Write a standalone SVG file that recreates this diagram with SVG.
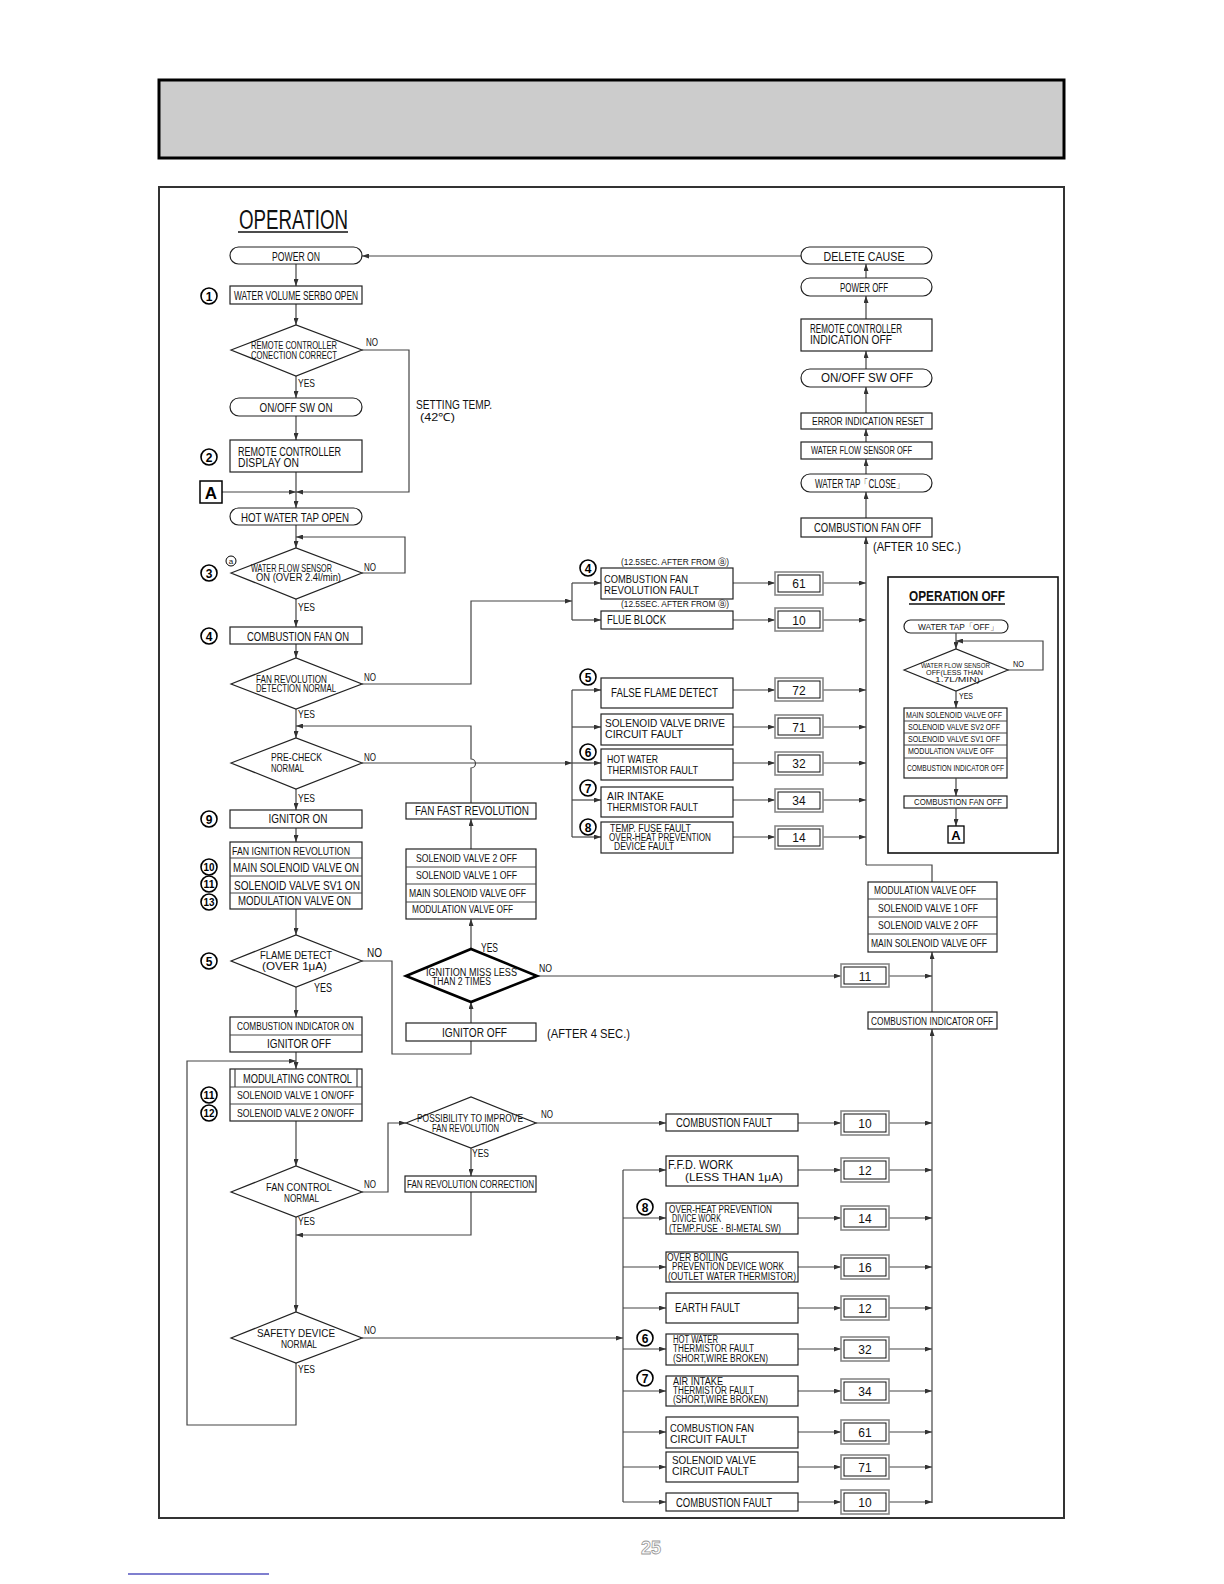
<svg xmlns="http://www.w3.org/2000/svg" width="1224" height="1584" viewBox="0 0 1224 1584">
<defs>
<style>
.t{font-family:"Liberation Sans Narrow","Liberation Sans",Arial,sans-serif;fill:#111}
.m{text-anchor:middle}
.b{fill:#fff;stroke:#222;stroke-width:1.2}
.c{fill:none;stroke:#444;stroke-width:1.2}
.a{fill:none;stroke:#444;stroke-width:1.2;marker-end:url(#ah)}
.cir{fill:#fff;stroke:#000;stroke-width:1.6}
.n{font-family:"Liberation Sans",Arial,sans-serif;font-weight:bold;text-anchor:middle;fill:#000}
.co{fill:#fff;stroke:#888;stroke-width:1.6}
.ci{fill:none;stroke:#111;stroke-width:1}
</style>
<marker id="ah" markerWidth="7" markerHeight="5" refX="7" refY="2.5" orient="auto" markerUnits="userSpaceOnUse"><path d="M0,0 L7,2.5 L0,5 z" fill="#333"/></marker>
</defs>
<rect x="0" y="0" width="1224" height="1584" fill="#fff"/>
<rect x="159" y="80" width="905" height="78" fill="#cccccc" stroke="#000" stroke-width="3"/>
<rect x="159" y="187" width="905" height="1331" fill="none" stroke="#333" stroke-width="2"/>
<g id="title">
<text class="t" x="239" y="229" font-size="27" textLength="109" lengthAdjust="spacingAndGlyphs">OPERATION</text>
<line x1="238" y1="232" x2="348" y2="232" stroke="#111" stroke-width="1.5"/>
</g>

<g id="connectors">
<path class="a" d="M296,264 V286"/>
<path class="a" d="M296,304 V325"/>
<path class="a" d="M296,376 V398"/>
<path class="a" d="M296,416 V440"/>
<path class="a" d="M296,472 V508"/>
<path class="a" d="M222,492 H296"/>
<path class="a" d="M362,350 H409 V492 H296"/>
<path class="a" d="M296,525 V548"/>
<path class="a" d="M362,573 H405 V537 H296"/>
<path class="a" d="M296,599 V627"/>
<path class="a" d="M296,644 V658"/>
<path class="a" d="M296,709 V738"/>
<path class="a" d="M471,803 V768 A4.5,4.5 0 0 0 471,759 V726 H296"/>
<path class="a" d="M296,789 V810"/>
<path class="a" d="M296,828 V842"/>
<path class="a" d="M296,909 V935"/>
<path class="a" d="M296,987 V1017"/>
<path class="a" d="M296,1052 V1069"/>
<path class="a" d="M296,1363 V1425 H187 V1061 H296"/>
<path class="a" d="M296,1121 V1166"/>
<path class="a" d="M296,1217 V1312"/>
<path class="a" d="M471,1192 V1235 H296"/>
<path class="a" d="M362,1192 H388 V1123 H406"/>
<path class="a" d="M471,1148 V1176"/>
<path class="a" d="M536,1123 H666"/>
<path class="a" d="M362,1338 H623"/>
<path class="c" d="M623,1170 V1502"/>
<path class="a" d="M623,1170 H666"/><path class="a" d="M623,1218 H666"/><path class="a" d="M623,1267 H666"/><path class="a" d="M623,1308 H666"/><path class="a" d="M623,1349 H666"/><path class="a" d="M623,1391 H666"/><path class="a" d="M623,1432 H666"/><path class="a" d="M623,1467 H666"/><path class="a" d="M623,1502 H666"/>
<path class="a" d="M798,1123 H841"/><path class="a" d="M798,1170 H841"/><path class="a" d="M798,1218 H841"/><path class="a" d="M798,1267 H841"/><path class="a" d="M798,1308 H841"/><path class="a" d="M798,1349 H841"/><path class="a" d="M798,1391 H841"/><path class="a" d="M798,1432 H841"/><path class="a" d="M798,1467 H841"/><path class="a" d="M798,1502 H841"/>
<path class="a" d="M889,1123 H932"/><path class="a" d="M889,1170 H932"/><path class="a" d="M889,1218 H932"/><path class="a" d="M889,1267 H932"/><path class="a" d="M889,1308 H932"/><path class="a" d="M889,1349 H932"/><path class="a" d="M889,1391 H932"/><path class="a" d="M889,1432 H932"/><path class="a" d="M889,1467 H932"/><path class="a" d="M889,1502 H932"/>
<path class="a" d="M932,1503 V1029"/>
<path class="a" d="M932,1012 V952"/>
<path class="a" d="M537,976 H841"/>
<path class="a" d="M889,976 H932"/>
<path class="c" d="M932,882 V865 H866"/>
<path class="a" d="M866,865 V537"/>
<path class="a" d="M733,583 H775"/><path class="a" d="M733,620 H775"/><path class="a" d="M733,690 H775"/><path class="a" d="M733,727 H775"/><path class="a" d="M733,763 H775"/><path class="a" d="M733,800 H775"/><path class="a" d="M733,837 H775"/>
<path class="a" d="M823,583 H866"/><path class="a" d="M823,620 H866"/><path class="a" d="M823,690 H866"/><path class="a" d="M823,727 H866"/><path class="a" d="M823,763 H866"/><path class="a" d="M823,800 H866"/><path class="a" d="M823,837 H866"/>
<path class="a" d="M362,684 H471 V601 H572"/>
<path class="c" d="M572,583 V620"/>
<path class="a" d="M572,583 H601"/><path class="a" d="M572,620 H601"/>
<path class="a" d="M362,763 H572"/>
<path class="c" d="M572,690 V837"/>
<path class="a" d="M572,690 H601"/><path class="a" d="M572,727 H601"/><path class="a" d="M572,763 H601"/><path class="a" d="M572,800 H601"/><path class="a" d="M572,837 H601"/>
<path class="a" d="M866,518 V492"/>
<path class="a" d="M866,474 V459"/>
<path class="a" d="M866,442 V429"/>
<path class="a" d="M866,413 V387"/>
<path class="a" d="M866,369 V351"/>
<path class="a" d="M866,319 V296"/>
<path class="a" d="M866,278 V264"/>
<path class="a" d="M801,256 H362"/>
<path class="a" d="M471,849 V819"/>
<path class="a" d="M471,949 V919"/>
<path class="a" d="M471,1023 V1002"/>
<path class="c" d="M362,961 H392 V1054 H471 V1041"/>
</g>

<g id="labels">
<text class="t" x="366" y="346" font-size="10.5" textLength="12" lengthAdjust="spacingAndGlyphs">NO</text>
<text class="t" x="298" y="387" font-size="11" textLength="17" lengthAdjust="spacingAndGlyphs">YES</text>
<text class="t" x="364" y="571" font-size="10.5" textLength="12" lengthAdjust="spacingAndGlyphs">NO</text>
<text class="t" x="298" y="611" font-size="11" textLength="17" lengthAdjust="spacingAndGlyphs">YES</text>
<text class="t" x="364" y="681" font-size="10.5" textLength="12" lengthAdjust="spacingAndGlyphs">NO</text>
<text class="t" x="298" y="718" font-size="11" textLength="17" lengthAdjust="spacingAndGlyphs">YES</text>
<text class="t" x="364" y="761" font-size="10.5" textLength="12" lengthAdjust="spacingAndGlyphs">NO</text>
<text class="t" x="298" y="802" font-size="11" textLength="17" lengthAdjust="spacingAndGlyphs">YES</text>
<text class="t" x="367" y="957" font-size="13" textLength="15" lengthAdjust="spacingAndGlyphs">NO</text>
<text class="t" x="314" y="992" font-size="12" textLength="18" lengthAdjust="spacingAndGlyphs">YES</text>
<text class="t" x="481" y="952" font-size="12" textLength="17" lengthAdjust="spacingAndGlyphs">YES</text>
<text class="t" x="539" y="972" font-size="10.5" textLength="13" lengthAdjust="spacingAndGlyphs">NO</text>
<text class="t" x="541" y="1118" font-size="10.5" textLength="12" lengthAdjust="spacingAndGlyphs">NO</text>
<text class="t" x="472" y="1157" font-size="11" textLength="17" lengthAdjust="spacingAndGlyphs">YES</text>
<text class="t" x="364" y="1188" font-size="10.5" textLength="12" lengthAdjust="spacingAndGlyphs">NO</text>
<text class="t" x="298" y="1225" font-size="11" textLength="17" lengthAdjust="spacingAndGlyphs">YES</text>
<text class="t" x="364" y="1334" font-size="10.5" textLength="12" lengthAdjust="spacingAndGlyphs">NO</text>
<text class="t" x="298" y="1373" font-size="11" textLength="17" lengthAdjust="spacingAndGlyphs">YES</text>
<text class="t" x="416" y="409" font-size="12" textLength="76" lengthAdjust="spacingAndGlyphs">SETTING TEMP.</text>
<text class="t" x="420" y="421" font-size="11" textLength="35" lengthAdjust="spacingAndGlyphs">(42℃)</text>
<text class="t" x="547" y="1038" font-size="12" textLength="83" lengthAdjust="spacingAndGlyphs">(AFTER 4 SEC.)</text>
<text class="t" x="873" y="551" font-size="12" textLength="88" lengthAdjust="spacingAndGlyphs">(AFTER 10 SEC.)</text>
<text class="t" x="621" y="565" font-size="9" textLength="108" lengthAdjust="spacingAndGlyphs">(12.5SEC. AFTER FROM ⓐ)</text>
<text class="t" x="621" y="607" font-size="9" textLength="108" lengthAdjust="spacingAndGlyphs">(12.5SEC. AFTER FROM ⓐ)</text>
</g>

<g id="circled-numbers">
<circle class="cir" cx="209" cy="296" r="8"/><text class="n" x="209" y="300.5" font-size="12">1</text>
<circle class="cir" cx="209" cy="457" r="8"/><text class="n" x="209" y="461.5" font-size="12">2</text>
<circle class="cir" cx="209" cy="573" r="8"/><text class="n" x="209" y="577.5" font-size="12">3</text>
<circle cx="231" cy="561" r="5" fill="#fff" stroke="#000" stroke-width="1"/><text class="t m" x="231" y="564" font-size="8">a</text>
<circle class="cir" cx="209" cy="636" r="8"/><text class="n" x="209" y="640.5" font-size="12">4</text>
<circle class="cir" cx="209" cy="819" r="8"/><text class="n" x="209" y="823.5" font-size="12">9</text>
<circle class="cir" cx="209" cy="867" r="8"/><text class="n" x="209" y="871" font-size="11" textLength="11" lengthAdjust="spacingAndGlyphs">10</text>
<circle class="cir" cx="209" cy="884" r="8"/><text class="n" x="209" y="888" font-size="11" textLength="11" lengthAdjust="spacingAndGlyphs">11</text>
<circle class="cir" cx="209" cy="902" r="8"/><text class="n" x="209" y="906" font-size="11" textLength="11" lengthAdjust="spacingAndGlyphs">13</text>
<circle class="cir" cx="209" cy="961" r="8"/><text class="n" x="209" y="965.5" font-size="12">5</text>
<circle class="cir" cx="209" cy="1095" r="8"/><text class="n" x="209" y="1099" font-size="11" textLength="11" lengthAdjust="spacingAndGlyphs">11</text>
<circle class="cir" cx="209" cy="1113" r="8"/><text class="n" x="209" y="1117" font-size="11" textLength="11" lengthAdjust="spacingAndGlyphs">12</text>
<circle class="cir" cx="588" cy="568" r="8"/><text class="n" x="588" y="572.5" font-size="12">4</text>
<circle class="cir" cx="588" cy="677" r="8"/><text class="n" x="588" y="681.5" font-size="12">5</text>
<circle class="cir" cx="588" cy="752" r="8"/><text class="n" x="588" y="756.5" font-size="12">6</text>
<circle class="cir" cx="588" cy="788" r="8"/><text class="n" x="588" y="792.5" font-size="12">7</text>
<circle class="cir" cx="588" cy="827" r="8"/><text class="n" x="588" y="831.5" font-size="12">8</text>
<circle class="cir" cx="645" cy="1207" r="8"/><text class="n" x="645" y="1211.5" font-size="12">8</text>
<circle class="cir" cx="645" cy="1338" r="8"/><text class="n" x="645" y="1342.5" font-size="12">6</text>
<circle class="cir" cx="645" cy="1378" r="8"/><text class="n" x="645" y="1382.5" font-size="12">7</text>
</g>

<g id="n-power-on"><rect class="b" x="230" y="247" width="132" height="17" rx="8.5"/><text class="t m" x="296" y="261" font-size="13" textLength="48" lengthAdjust="spacingAndGlyphs">POWER ON</text></g>
<g id="n-water-volume"><rect class="b" x="230" y="286" width="132" height="18"/><text class="t m" x="296" y="300" font-size="12" textLength="124" lengthAdjust="spacingAndGlyphs">WATER VOLUME SERBO OPEN</text></g>
<g id="d-remote-conn"><polygon class="b" points="231,350 296,325 362,350 296,376"/>
<text class="t" x="251" y="349" font-size="10.5" textLength="86" lengthAdjust="spacingAndGlyphs">REMOTE CONTROLLER</text>
<text class="t" x="251" y="359" font-size="10.5" textLength="86" lengthAdjust="spacingAndGlyphs">CONECTION CORRECT</text></g>
<g id="n-onoff-on"><rect class="b" x="230" y="398" width="132" height="18" rx="9"/><text class="t m" x="296" y="412" font-size="13" textLength="73" lengthAdjust="spacingAndGlyphs">ON/OFF SW ON</text></g>
<g id="n-remote-display"><rect class="b" x="230" y="440" width="132" height="32"/>
<text class="t" x="238" y="456" font-size="12" textLength="103" lengthAdjust="spacingAndGlyphs">REMOTE CONTROLLER</text>
<text class="t" x="238" y="467" font-size="12" textLength="61" lengthAdjust="spacingAndGlyphs">DISPLAY ON</text></g>
<g id="n-A"><rect x="200" y="481" width="22" height="22" fill="#fff" stroke="#000" stroke-width="1.5"/><text class="n" x="211" y="499" font-size="17">A</text></g>
<g id="n-hot-water-tap"><rect class="b" x="230" y="508" width="132" height="17" rx="8.5"/><text class="t m" x="295" y="522" font-size="13" textLength="108" lengthAdjust="spacingAndGlyphs">HOT WATER TAP OPEN</text></g>
<g id="d-water-flow"><polygon class="b" points="231,573 296,548 362,573 296,599"/>
<text class="t" x="251" y="572" font-size="10" textLength="81" lengthAdjust="spacingAndGlyphs">WATER FLOW SENSOR</text>
<text class="t" x="256" y="581" font-size="10" textLength="85" lengthAdjust="spacingAndGlyphs">ON (OVER 2.4l/min)</text></g>
<g id="n-comb-fan-on"><rect class="b" x="230" y="627" width="132" height="17"/><text class="t m" x="298" y="641" font-size="13" textLength="102" lengthAdjust="spacingAndGlyphs">COMBUSTION FAN ON</text></g>
<g id="d-fan-rev"><polygon class="b" points="231,684 296,658 362,684 296,709"/>
<text class="t" x="256" y="683" font-size="10.5" textLength="71" lengthAdjust="spacingAndGlyphs">FAN REVOLUTION</text>
<text class="t" x="256" y="692" font-size="10.5" textLength="80" lengthAdjust="spacingAndGlyphs">DETECTION NORMAL</text></g>
<g id="d-precheck"><polygon class="b" points="231,763 296,738 362,763 296,789"/>
<text class="t" x="271" y="761" font-size="11" textLength="51" lengthAdjust="spacingAndGlyphs">PRE-CHECK</text>
<text class="t" x="271" y="772" font-size="11" textLength="33" lengthAdjust="spacingAndGlyphs">NORMAL</text></g>
<g id="n-ignitor-on"><rect class="b" x="230" y="810" width="132" height="18"/><text class="t m" x="298" y="823" font-size="13" textLength="59" lengthAdjust="spacingAndGlyphs">IGNITOR ON</text></g>
<g id="n-ignition-stack"><rect class="b" x="230" y="842" width="132" height="67"/>
<path class="c" d="M230,858 H362 M230,876 H362 M230,893 H362" stroke="#222"/>
<text class="t" x="232" y="855" font-size="11.5" textLength="118" lengthAdjust="spacingAndGlyphs">FAN IGNITION REVOLUTION</text>
<text class="t" x="233" y="872" font-size="12" textLength="126" lengthAdjust="spacingAndGlyphs">MAIN SOLENOID VALVE ON</text>
<text class="t" x="234" y="890" font-size="12" textLength="126" lengthAdjust="spacingAndGlyphs">SOLENOID VALVE SV1 ON</text>
<text class="t" x="238" y="905" font-size="12" textLength="113" lengthAdjust="spacingAndGlyphs">MODULATION VALVE ON</text></g>
<g id="d-flame"><polygon class="b" points="231,961 296,935 362,961 296,987"/>
<text class="t" x="260" y="959" font-size="11.5" textLength="72" lengthAdjust="spacingAndGlyphs">FLAME DETECT</text>
<text class="t" x="262" y="970" font-size="11" textLength="65" lengthAdjust="spacingAndGlyphs">(OVER 1μA)</text></g>
<g id="n-comb-ind-on"><rect class="b" x="230" y="1017" width="132" height="35"/><path class="c" d="M230,1035 H362" stroke="#222"/>
<text class="t" x="237" y="1030" font-size="11" textLength="117" lengthAdjust="spacingAndGlyphs">COMBUSTION INDICATOR ON</text>
<text class="t" x="267" y="1048" font-size="12" textLength="64" lengthAdjust="spacingAndGlyphs">IGNITOR OFF</text></g>
<g id="n-modulating"><rect class="b" x="230" y="1069" width="132" height="52"/><path class="c" d="M230,1087 H362 M230,1104 H362 M235,1069 V1087 M357,1069 V1087" stroke="#222"/>
<text class="t" x="243" y="1083" font-size="12" textLength="109" lengthAdjust="spacingAndGlyphs">MODULATING CONTROL</text>
<text class="t" x="237" y="1099" font-size="11" textLength="117" lengthAdjust="spacingAndGlyphs">SOLENOID VALVE 1 ON/OFF</text>
<text class="t" x="237" y="1117" font-size="11" textLength="117" lengthAdjust="spacingAndGlyphs">SOLENOID VALVE 2 ON/OFF</text></g>
<g id="d-fan-control"><polygon class="b" points="231,1192 296,1166 362,1192 296,1217"/>
<text class="t" x="266" y="1191" font-size="11.5" textLength="66" lengthAdjust="spacingAndGlyphs">FAN CONTROL</text>
<text class="t" x="284" y="1202" font-size="11.5" textLength="35" lengthAdjust="spacingAndGlyphs">NORMAL</text></g>
<g id="d-safety"><polygon class="b" points="231,1338 296,1312 362,1338 296,1363"/>
<text class="t" x="257" y="1337" font-size="11.5" textLength="78" lengthAdjust="spacingAndGlyphs">SAFETY DEVICE</text>
<text class="t" x="281" y="1348" font-size="11.5" textLength="36" lengthAdjust="spacingAndGlyphs">NORMAL</text></g>

<g id="n-fan-fast"><rect class="b" x="406" y="803" width="130" height="16"/><text class="t" x="415" y="815" font-size="12" textLength="114" lengthAdjust="spacingAndGlyphs">FAN FAST REVOLUTION</text></g>
<g id="n-valves-off"><rect class="b" x="406" y="849" width="130" height="70"/><path class="c" d="M406,867 H536 M406,884 H536 M406,902 H536" stroke="#222"/>
<text class="t" x="416" y="862" font-size="11" textLength="101" lengthAdjust="spacingAndGlyphs">SOLENOID VALVE 2 OFF</text>
<text class="t" x="416" y="879" font-size="11" textLength="101" lengthAdjust="spacingAndGlyphs">SOLENOID VALVE 1 OFF</text>
<text class="t" x="409" y="897" font-size="11" textLength="117" lengthAdjust="spacingAndGlyphs">MAIN SOLENOID VALVE OFF</text>
<text class="t" x="412" y="913" font-size="11" textLength="101" lengthAdjust="spacingAndGlyphs">MODULATION VALVE OFF</text></g>
<g id="d-ignition-miss"><polygon points="406,976 471,949 537,976 471,1002" fill="#fff" stroke="#000" stroke-width="2.6"/>
<text class="t" x="426" y="976" font-size="10" textLength="91" lengthAdjust="spacingAndGlyphs">IGNITION MISS LESS</text>
<text class="t" x="432" y="985" font-size="10" textLength="59" lengthAdjust="spacingAndGlyphs">THAN 2 TIMES</text></g>
<g id="n-ignitor-off"><rect class="b" x="406" y="1023" width="130" height="18"/><text class="t" x="442" y="1037" font-size="13" textLength="65" lengthAdjust="spacingAndGlyphs">IGNITOR OFF</text></g>
<g id="d-possibility"><polygon class="b" points="406,1123 471,1097 536,1123 471,1148"/>
<text class="t" x="417" y="1122" font-size="10" textLength="106" lengthAdjust="spacingAndGlyphs">POSSIBILITY TO IMPROVE</text>
<text class="t" x="432" y="1132" font-size="10" textLength="67" lengthAdjust="spacingAndGlyphs">FAN REVOLUTION</text></g>
<g id="n-fan-rev-corr"><rect class="b" x="405" y="1176" width="131" height="16"/><text class="t" x="407" y="1188" font-size="11" textLength="127" lengthAdjust="spacingAndGlyphs">FAN REVOLUTION CORRECTION</text></g>

<g id="n-delete-cause"><rect class="b" x="801" y="247" width="131" height="17" rx="8.5"/><text class="t m" x="864" y="261" font-size="12.5" textLength="81" lengthAdjust="spacingAndGlyphs">DELETE CAUSE</text></g>
<g id="n-power-off"><rect class="b" x="801" y="278" width="131" height="18" rx="9"/><text class="t m" x="864" y="292" font-size="12.5" textLength="48" lengthAdjust="spacingAndGlyphs">POWER OFF</text></g>
<g id="n-remote-ind-off"><rect class="b" x="801" y="319" width="131" height="32"/>
<text class="t" x="810" y="333" font-size="12" textLength="92" lengthAdjust="spacingAndGlyphs">REMOTE CONTROLLER</text>
<text class="t" x="810" y="344" font-size="12" textLength="82" lengthAdjust="spacingAndGlyphs">INDICATION OFF</text></g>
<g id="n-onoff-off"><rect class="b" x="801" y="369" width="131" height="18" rx="9"/><text class="t m" x="867" y="382" font-size="12.5" textLength="92" lengthAdjust="spacingAndGlyphs">ON/OFF SW OFF</text></g>
<g id="n-error-reset"><rect class="b" x="801" y="413" width="131" height="16"/><text class="t m" x="868" y="425" font-size="10.5" textLength="112" lengthAdjust="spacingAndGlyphs">ERROR INDICATION RESET</text></g>
<g id="n-wfs-off"><rect class="b" x="801" y="442" width="131" height="17"/><text class="t" x="811" y="454" font-size="10" textLength="101" lengthAdjust="spacingAndGlyphs">WATER FLOW SENSOR OFF</text></g>
<g id="n-tap-close"><rect class="b" x="801" y="474" width="131" height="18" rx="9"/><text class="t" x="815" y="488" font-size="12" textLength="89" lengthAdjust="spacingAndGlyphs">WATER TAP「CLOSE」</text></g>
<g id="n-comb-fan-off"><rect class="b" x="801" y="518" width="131" height="19"/><text class="t" x="814" y="532" font-size="12" textLength="107" lengthAdjust="spacingAndGlyphs">COMBUSTION FAN OFF</text></g>

<g id="n-f-cfrf"><rect class="b" x="601" y="568" width="132" height="31"/>
<text class="t" x="604" y="583" font-size="11.5" textLength="84" lengthAdjust="spacingAndGlyphs">COMBUSTION FAN</text>
<text class="t" x="604" y="594" font-size="11.5" textLength="95" lengthAdjust="spacingAndGlyphs">REVOLUTION FAULT</text></g>
<g id="n-f-flue"><rect class="b" x="601" y="611" width="132" height="18"/><text class="t" x="607" y="624" font-size="12" textLength="59" lengthAdjust="spacingAndGlyphs">FLUE BLOCK</text></g>
<g id="n-f-false"><rect class="b" x="601" y="678" width="132" height="30"/><text class="t" x="611" y="697" font-size="12.5" textLength="107" lengthAdjust="spacingAndGlyphs">FALSE FLAME DETECT</text></g>
<g id="n-f-soldrive"><rect class="b" x="601" y="714" width="132" height="31"/>
<text class="t" x="605" y="727" font-size="11.5" textLength="120" lengthAdjust="spacingAndGlyphs">SOLENOID VALVE DRIVE</text>
<text class="t" x="605" y="738" font-size="11.5" textLength="78" lengthAdjust="spacingAndGlyphs">CIRCUIT FAULT</text></g>
<g id="n-f-hotw"><rect class="b" x="601" y="749" width="132" height="31"/>
<text class="t" x="607" y="763" font-size="11.5" textLength="51" lengthAdjust="spacingAndGlyphs">HOT WATER</text>
<text class="t" x="607" y="774" font-size="11.5" textLength="91" lengthAdjust="spacingAndGlyphs">THERMISTOR FAULT</text></g>
<g id="n-f-air"><rect class="b" x="601" y="787" width="132" height="30"/>
<text class="t" x="607" y="800" font-size="11.5" textLength="57" lengthAdjust="spacingAndGlyphs">AIR INTAKE</text>
<text class="t" x="607" y="811" font-size="11.5" textLength="91" lengthAdjust="spacingAndGlyphs">THERMISTOR FAULT</text></g>
<g id="n-f-temp"><rect class="b" x="601" y="822" width="132" height="31"/>
<text class="t" x="610" y="832" font-size="10" textLength="81" lengthAdjust="spacingAndGlyphs">TEMP. FUSE FAULT</text>
<text class="t" x="609" y="841" font-size="10" textLength="102" lengthAdjust="spacingAndGlyphs">OVER-HEAT PREVENTION</text>
<text class="t" x="614" y="850" font-size="10" textLength="60" lengthAdjust="spacingAndGlyphs">DEVICE FAULT</text></g>

<g id="codes-upper">
<g id="c61a"><rect class="co" x="775" y="572" width="48" height="23"/><rect class="ci" x="778" y="575" width="42" height="17"/><text class="t m" x="799" y="588" font-size="12">61</text></g>
<g id="c10a"><rect class="co" x="775" y="608" width="48" height="23"/><rect class="ci" x="778" y="611" width="42" height="17"/><text class="t m" x="799" y="625" font-size="12">10</text></g>
<g id="c72"><rect class="co" x="775" y="678" width="48" height="23"/><rect class="ci" x="778" y="681" width="42" height="17"/><text class="t m" x="799" y="695" font-size="12">72</text></g>
<g id="c71a"><rect class="co" x="775" y="715" width="48" height="23"/><rect class="ci" x="778" y="718" width="42" height="17"/><text class="t m" x="799" y="732" font-size="12">71</text></g>
<g id="c32a"><rect class="co" x="775" y="752" width="48" height="23"/><rect class="ci" x="778" y="755" width="42" height="17"/><text class="t m" x="799" y="768" font-size="12">32</text></g>
<g id="c34a"><rect class="co" x="775" y="789" width="48" height="23"/><rect class="ci" x="778" y="792" width="42" height="17"/><text class="t m" x="799" y="805" font-size="12">34</text></g>
<g id="c14a"><rect class="co" x="775" y="826" width="48" height="23"/><rect class="ci" x="778" y="829" width="42" height="17"/><text class="t m" x="799" y="842" font-size="12">14</text></g>
</g>

<g id="n-valves-off-right"><rect class="b" x="868" y="882" width="129" height="70"/><path class="c" d="M868,899 H997 M868,917 H997 M868,934 H997" stroke="#222"/>
<text class="t" x="874" y="894" font-size="11" textLength="102" lengthAdjust="spacingAndGlyphs">MODULATION VALVE OFF</text>
<text class="t" x="878" y="912" font-size="11" textLength="100" lengthAdjust="spacingAndGlyphs">SOLENOID VALVE 1 OFF</text>
<text class="t" x="878" y="929" font-size="11" textLength="100" lengthAdjust="spacingAndGlyphs">SOLENOID VALVE 2 OFF</text>
<text class="t" x="871" y="947" font-size="11" textLength="116" lengthAdjust="spacingAndGlyphs">MAIN SOLENOID VALVE OFF</text></g>
<g id="c11"><rect class="co" x="841" y="964" width="48" height="23"/><rect class="ci" x="844" y="967" width="42" height="17"/><text class="t m" x="865" y="981" font-size="12">11</text></g>
<g id="n-comb-ind-off"><rect class="b" x="868" y="1012" width="129" height="17"/><text class="t" x="871" y="1025" font-size="11" textLength="122" lengthAdjust="spacingAndGlyphs">COMBUSTION INDICATOR OFF</text></g>

<g id="n-b-comb1"><rect class="b" x="666" y="1114" width="132" height="17"/><text class="t" x="676" y="1127" font-size="12" textLength="96" lengthAdjust="spacingAndGlyphs">COMBUSTION FAULT</text></g>
<g id="n-b-ffd"><rect class="b" x="666" y="1156" width="132" height="30"/>
<text class="t" x="668" y="1169" font-size="12" textLength="65" lengthAdjust="spacingAndGlyphs">F.F.D. WORK</text>
<text class="t" x="685" y="1181" font-size="11.5" textLength="98" lengthAdjust="spacingAndGlyphs">(LESS THAN 1μA)</text></g>
<g id="n-b-overheat"><rect class="b" x="666" y="1203" width="132" height="31"/>
<text class="t" x="669" y="1213" font-size="10" textLength="103" lengthAdjust="spacingAndGlyphs">OVER-HEAT PREVENTION</text>
<text class="t" x="672" y="1222" font-size="10" textLength="49" lengthAdjust="spacingAndGlyphs">DIVICE WORK</text>
<text class="t" x="669" y="1232" font-size="10" textLength="112" lengthAdjust="spacingAndGlyphs">(TEMP.FUSE・BI-METAL SW)</text></g>
<g id="n-b-boiling"><rect class="b" x="666" y="1252" width="132" height="30"/>
<text class="t" x="667" y="1261" font-size="10" textLength="61" lengthAdjust="spacingAndGlyphs">OVER BOILING</text>
<text class="t" x="672" y="1270" font-size="10" textLength="112" lengthAdjust="spacingAndGlyphs">PREVENTION DEVICE WORK</text>
<text class="t" x="668" y="1280" font-size="10" textLength="128" lengthAdjust="spacingAndGlyphs">(OUTLET WATER THERMISTOR)</text></g>
<g id="n-b-earth"><rect class="b" x="666" y="1293" width="132" height="30"/><text class="t" x="675" y="1312" font-size="12" textLength="65" lengthAdjust="spacingAndGlyphs">EARTH FAULT</text></g>
<g id="n-b-hotw"><rect class="b" x="666" y="1334" width="132" height="31"/>
<text class="t" x="673" y="1343" font-size="10" textLength="45" lengthAdjust="spacingAndGlyphs">HOT WATER</text>
<text class="t" x="673" y="1352" font-size="10" textLength="81" lengthAdjust="spacingAndGlyphs">THERMISTOR FAULT</text>
<text class="t" x="673" y="1362" font-size="10" textLength="95" lengthAdjust="spacingAndGlyphs">(SHORT,WIRE BROKEN)</text></g>
<g id="n-b-air"><rect class="b" x="666" y="1376" width="132" height="30"/>
<text class="t" x="673" y="1385" font-size="10" textLength="50" lengthAdjust="spacingAndGlyphs">AIR INTAKE</text>
<text class="t" x="673" y="1394" font-size="10" textLength="81" lengthAdjust="spacingAndGlyphs">THERMISTOR FAULT</text>
<text class="t" x="673" y="1403" font-size="10" textLength="95" lengthAdjust="spacingAndGlyphs">(SHORT,WIRE BROKEN)</text></g>
<g id="n-b-combfan"><rect class="b" x="666" y="1417" width="132" height="31"/>
<text class="t" x="670" y="1432" font-size="11.5" textLength="84" lengthAdjust="spacingAndGlyphs">COMBUSTION FAN</text>
<text class="t" x="670" y="1443" font-size="11.5" textLength="77" lengthAdjust="spacingAndGlyphs">CIRCUIT FAULT</text></g>
<g id="n-b-solenoid"><rect class="b" x="666" y="1452" width="132" height="30"/>
<text class="t" x="672" y="1464" font-size="11.5" textLength="84" lengthAdjust="spacingAndGlyphs">SOLENOID VALVE</text>
<text class="t" x="672" y="1475" font-size="11.5" textLength="77" lengthAdjust="spacingAndGlyphs">CIRCUIT FAULT</text></g>
<g id="n-b-comb2"><rect class="b" x="666" y="1493" width="132" height="18"/><text class="t" x="676" y="1507" font-size="12" textLength="96" lengthAdjust="spacingAndGlyphs">COMBUSTION FAULT</text></g>

<g id="codes-lower">
<g><rect class="co" x="841" y="1111" width="48" height="24"/><rect class="ci" x="844" y="1114" width="42" height="18"/><text class="t m" x="865" y="1128" font-size="12">10</text></g>
<g><rect class="co" x="841" y="1158" width="48" height="24"/><rect class="ci" x="844" y="1161" width="42" height="18"/><text class="t m" x="865" y="1175" font-size="12">12</text></g>
<g><rect class="co" x="841" y="1206" width="48" height="24"/><rect class="ci" x="844" y="1209" width="42" height="18"/><text class="t m" x="865" y="1223" font-size="12">14</text></g>
<g><rect class="co" x="841" y="1255" width="48" height="24"/><rect class="ci" x="844" y="1258" width="42" height="18"/><text class="t m" x="865" y="1272" font-size="12">16</text></g>
<g><rect class="co" x="841" y="1296" width="48" height="24"/><rect class="ci" x="844" y="1299" width="42" height="18"/><text class="t m" x="865" y="1313" font-size="12">12</text></g>
<g><rect class="co" x="841" y="1337" width="48" height="24"/><rect class="ci" x="844" y="1340" width="42" height="18"/><text class="t m" x="865" y="1354" font-size="12">32</text></g>
<g><rect class="co" x="841" y="1379" width="48" height="24"/><rect class="ci" x="844" y="1382" width="42" height="18"/><text class="t m" x="865" y="1396" font-size="12">34</text></g>
<g><rect class="co" x="841" y="1420" width="48" height="24"/><rect class="ci" x="844" y="1423" width="42" height="18"/><text class="t m" x="865" y="1437" font-size="12">61</text></g>
<g><rect class="co" x="841" y="1455" width="48" height="24"/><rect class="ci" x="844" y="1458" width="42" height="18"/><text class="t m" x="865" y="1472" font-size="12">71</text></g>
<g><rect class="co" x="841" y="1490" width="48" height="24"/><rect class="ci" x="844" y="1493" width="42" height="18"/><text class="t m" x="865" y="1507" font-size="12">10</text></g>
</g>

<g id="operation-off">
<rect x="888" y="577" width="170" height="276" fill="#fff" stroke="#111" stroke-width="1.6"/>
<text class="t" x="909" y="601" font-size="15" font-weight="bold" textLength="96" lengthAdjust="spacingAndGlyphs">OPERATION OFF</text>
<line x1="909" y1="604" x2="1005" y2="604" stroke="#111" stroke-width="1.3"/>
<rect class="b" x="904" y="620" width="104" height="13" rx="6.5"/>
<text class="t m" x="958" y="630" font-size="9" textLength="80" lengthAdjust="spacingAndGlyphs">WATER TAP「OFF」</text>
<path class="a" d="M956,633 V649"/>
<path class="a" d="M1008,670 H1043 V641 H956"/>
<polygon class="b" points="904,670 956,649 1008,670 956,691"/>
<text class="t" x="921" y="668" font-size="7.5" textLength="69" lengthAdjust="spacingAndGlyphs">WATER FLOW SENSOR</text>
<text class="t" x="926" y="675" font-size="7.5" textLength="57" lengthAdjust="spacingAndGlyphs">OFF(LESS THAN</text>
<text class="t" x="935" y="682" font-size="7.5" textLength="45" lengthAdjust="spacingAndGlyphs">1.7L/MIN)</text>
<text class="t" x="1013" y="667" font-size="9" textLength="11" lengthAdjust="spacingAndGlyphs">NO</text>
<text class="t" x="959" y="699" font-size="9" textLength="14" lengthAdjust="spacingAndGlyphs">YES</text>
<path class="a" d="M956,691 V708"/>
<rect class="b" x="904" y="708" width="103" height="70"/>
<path class="c" d="M904,721 H1007 M904,733 H1007 M904,745 H1007 M904,758 H1007" stroke="#222"/>
<text class="t" x="906" y="718" font-size="8.5" textLength="96" lengthAdjust="spacingAndGlyphs">MAIN SOLENOID VALVE OFF</text>
<text class="t" x="908" y="730" font-size="8.5" textLength="92" lengthAdjust="spacingAndGlyphs">SOLENOID VALVE SV2 OFF</text>
<text class="t" x="908" y="742" font-size="8.5" textLength="92" lengthAdjust="spacingAndGlyphs">SOLENOID VALVE SV1 OFF</text>
<text class="t" x="908" y="754" font-size="8.5" textLength="86" lengthAdjust="spacingAndGlyphs">MODULATION VALVE OFF</text>
<text class="t" x="907" y="771" font-size="8.5" textLength="97" lengthAdjust="spacingAndGlyphs">COMBUSTION INDICATOR OFF</text>
<path class="a" d="M956,778 V796"/>
<rect class="b" x="904" y="796" width="103" height="12"/>
<text class="t" x="914" y="805" font-size="8.5" textLength="88" lengthAdjust="spacingAndGlyphs">COMBUSTION FAN OFF</text>
<path class="a" d="M956,808 V826"/>
<rect x="948" y="826" width="16" height="17" fill="#fff" stroke="#000" stroke-width="1.3"/>
<text class="n" x="956" y="840" font-size="13">A</text>
</g>

<text x="651" y="1554" font-family="Liberation Sans,Arial,sans-serif" font-weight="bold" font-size="18" text-anchor="middle" fill="#fff" stroke="#999" stroke-width="0.8">25</text>
<line x1="128" y1="1574" x2="269" y2="1574" stroke="#0000a0" stroke-width="1.2"/>
</svg>
